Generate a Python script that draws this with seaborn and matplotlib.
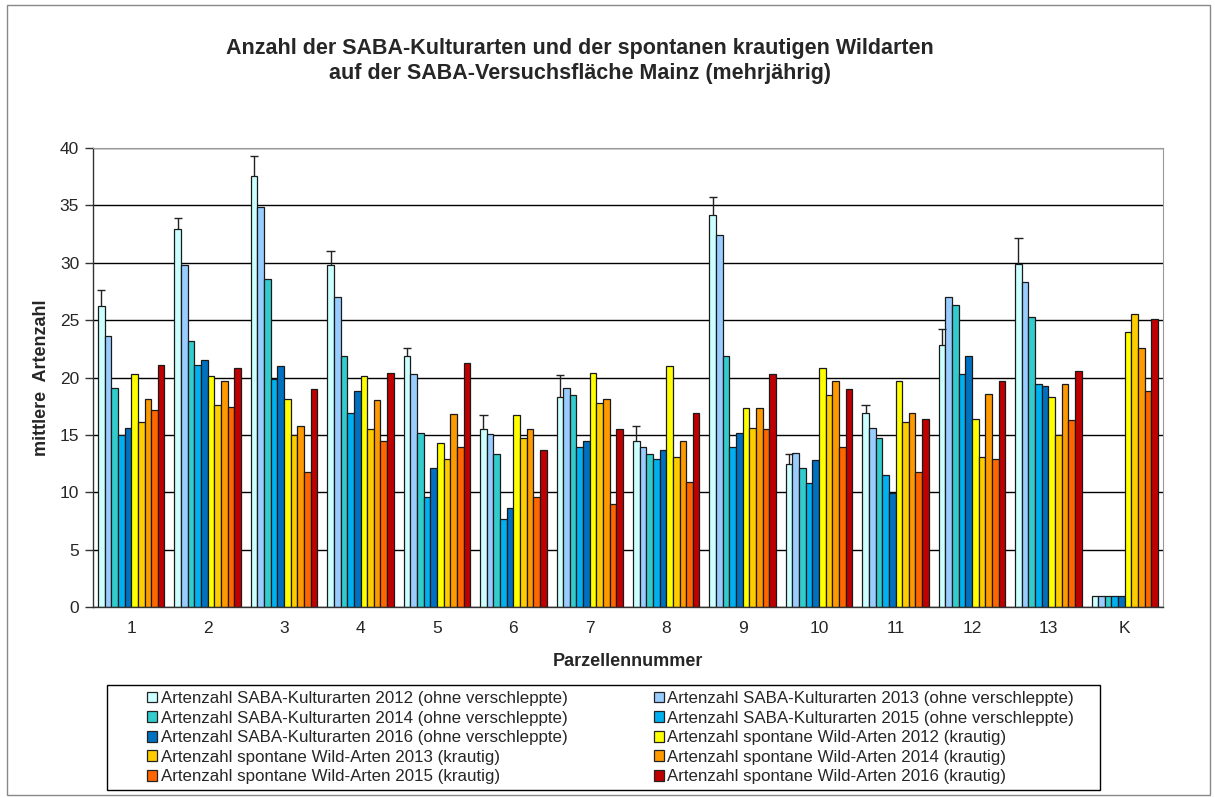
import numpy as np
import pandas as pd
import matplotlib
matplotlib.use("Agg")
import matplotlib.pyplot as plt
import seaborn as sns
from matplotlib.patches import Rectangle
from matplotlib.ticker import FixedLocator

# Parzellen
parzellen = ["1", "2", "3", "4", "5", "6", "7", "8", "9", "10", "11", "12", "13", "K"]

# SABA-Kulturarten (ohne verschleppte)
kultur_2012 = [26.2, 32.9, 37.6, 29.8, 21.9, 15.5, 18.3, 14.5, 34.2, 12.5, 16.9, 22.8, 29.9, 1.0]
kultur_2013 = [23.6, 29.8, 34.9, 27.0, 20.3, 15.1, 19.1, 13.9, 32.4, 13.4, 15.6, 27.0, 28.3, 1.0]
kultur_2014 = [19.1, 23.2, 28.6, 21.9, 15.2, 13.3, 18.5, 13.3, 21.9, 12.1, 14.7, 26.3, 25.3, 1.0]
kultur_2015 = [15.0, 21.1, 19.9, 16.9, 9.6, 7.7, 13.9, 12.9, 13.9, 10.8, 11.5, 20.3, 19.4, 1.0]
kultur_2016 = [15.6, 21.5, 21.0, 18.8, 12.1, 8.6, 14.5, 13.7, 15.2, 12.8, 9.9, 21.9, 19.3, 1.0]
# obere Fehlerbalken nur fuer 2012
fehler_2012 = [1.4, 1.0, 1.7, 1.2, 0.7, 1.2, 1.9, 1.3, 1.5, 0.8, 0.7, 1.4, 2.3, np.nan]

# spontane Wild-Arten (krautig)
wild_2012 = [20.3, 20.1, 18.1, 20.1, 14.3, 16.7, 20.4, 21.0, 17.3, 20.8, 19.7, 16.4, 18.3, 24.0]
wild_2013 = [16.1, 17.6, 15.0, 15.5, 12.9, 14.7, 17.8, 13.1, 15.6, 18.5, 16.1, 13.1, 15.0, 25.5]
wild_2014 = [18.1, 19.7, 15.8, 18.0, 16.8, 15.5, 18.1, 14.5, 17.3, 19.7, 16.9, 18.6, 19.4, 22.6]
wild_2015 = [17.2, 17.4, 11.8, 14.5, 13.9, 9.6, 9.0, 10.9, 15.5, 13.9, 11.8, 12.9, 16.3, 18.8]
wild_2016 = [21.1, 20.8, 19.0, 20.4, 21.3, 13.7, 15.5, 16.9, 20.3, 19.0, 16.4, 19.7, 20.6, 25.1]

serien = [
    "Artenzahl SABA-Kulturarten 2012 (ohne verschleppte)",
    "Artenzahl SABA-Kulturarten 2013 (ohne verschleppte)",
    "Artenzahl SABA-Kulturarten 2014 (ohne verschleppte)",
    "Artenzahl SABA-Kulturarten 2015 (ohne verschleppte)",
    "Artenzahl SABA-Kulturarten 2016 (ohne verschleppte)",
    "Artenzahl spontane Wild-Arten 2012 (krautig)",
    "Artenzahl spontane Wild-Arten 2013 (krautig)",
    "Artenzahl spontane Wild-Arten 2014 (krautig)",
    "Artenzahl spontane Wild-Arten 2015 (krautig)",
    "Artenzahl spontane Wild-Arten 2016 (krautig)",
]
farben = ["#CCFFFF", "#99CCFF", "#33CCCC", "#00B0F0", "#0070C0",
          "#FFFF00", "#FFCC00", "#FF9900", "#FF6600", "#C00000"]

werte = [kultur_2012, kultur_2013, kultur_2014, kultur_2015, kultur_2016,
         wild_2012, wild_2013, wild_2014, wild_2015, wild_2016]

rows = []
for name, vals in zip(serien, werte):
    for p, v in zip(parzellen, vals):
        rows.append({"Parzelle": p, "Serie": name, "Artenzahl": v})
df = pd.DataFrame(rows)

sns.set_style("white")
plt.rcParams['font.family'] = ['Liberation Sans', 'DejaVu Sans']

fig = plt.figure(figsize=(12.15, 7.98), dpi=100)
ax = fig.add_axes([93 / 1215, 191 / 798, 1070 / 1215, 459 / 798])

sns.barplot(data=df, x="Parzelle", y="Artenzahl", hue="Serie", order=parzellen,
            hue_order=serien, palette=farben, saturation=1, width=0.87, gap=0,
            edgecolor="#1a1a1a", linewidth=0.9, errorbar=None, ax=ax)

# Fehlerbalken (nur nach oben) fuer 2012
bars = ax.containers[0]
xs = np.array([b.get_x() + b.get_width() / 2 for b in bars])
ys = np.array([b.get_height() for b in bars])
err = np.array(fehler_2012)
ok = ~np.isnan(err)
ax.vlines(xs[ok], ys[ok], ys[ok] + err[ok], color="#222222", lw=1.0, zorder=5)
ax.hlines(ys[ok] + err[ok], xs[ok] - 0.055, xs[ok] + 0.055, color="#222222", lw=1.0, zorder=5)

ax.set_ylim(0, 40)
ax.set_xlim(-0.5, len(parzellen) - 0.5)
ax.set_yticks(range(0, 41, 5))
ax.yaxis.grid(True, color="black", linewidth=1.0)
ax.set_axisbelow(True)

ax.tick_params(axis="x", which="major", length=0, labelsize=12.5, pad=10)
ax.xaxis.set_minor_locator(FixedLocator(np.arange(-0.5, len(parzellen), 1.0)))
ax.tick_params(axis="x", which="minor", length=8, direction="inout", width=1, color="#333333")
ax.tick_params(axis="y", length=6, direction="out", width=1, labelsize=12.5,
               color="#333333", left=True, pad=4)

for s in ["top", "right"]:
    ax.spines[s].set_color("#999999")
for s in ["left", "bottom"]:
    ax.spines[s].set_color("#333333")
    ax.spines[s].set_linewidth(1.0)

ax.set_xlabel("Parzellennummer", fontsize=13, fontweight="bold", labelpad=12)
ax.set_ylabel("mittlere  Artenzahl", fontsize=13, fontweight="bold", labelpad=7)

fig.suptitle("Anzahl der SABA-Kulturarten und der spontanen krautigen Wildarten\n"
             "auf der SABA-Versuchsfläche Mainz (mehrjährig)",
             x=0.477, y=0.953, fontsize=15.5, fontweight="bold", linespacing=1.25)

# Legende zeilenweise wie im Original
handles, labels = ax.get_legend_handles_labels()
ax.get_legend().remove()
order = [0, 2, 4, 6, 8, 1, 3, 5, 7, 9]
leg = fig.legend([handles[i] for i in order], [labels[i] for i in order],
                 ncol=2, loc="upper left", bbox_to_anchor=(147 / 1215, 1 - 691 / 798),
                 fontsize=12.2, frameon=False, handlelength=0.6, handleheight=0.6,
                 handletextpad=0.2, labelspacing=0.27, columnspacing=5.1,
                 borderaxespad=0.0, borderpad=0.0)
for h in leg.legend_handles:
    h.set_edgecolor("#222222")
    h.set_linewidth(0.9)

# Rahmen der Legende
fig.patches.append(Rectangle((107 / 1215, 8 / 798), 993 / 1215, 105 / 798,
                             transform=fig.transFigure, fill=False,
                             edgecolor="black", linewidth=1.0))
# Rahmen um das ganze Bild
fig.patches.append(Rectangle((0.006, 0.004), 0.99, 0.99, transform=fig.transFigure,
                             fill=False, edgecolor="#888888", linewidth=1.0))

plt.savefig("out.png", dpi=100)
